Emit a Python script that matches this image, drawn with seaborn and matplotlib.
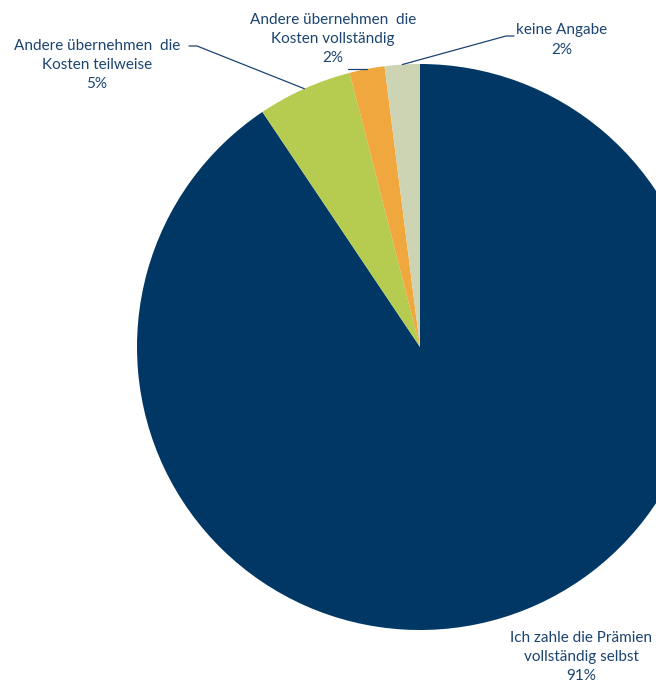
import numpy as np
import matplotlib
matplotlib.use('Agg')
import matplotlib.pyplot as plt
import seaborn as sns

# data
labels = ["Ich zahle die Prämien\nvollständig selbst",
          "Andere übernehmen  die\nKosten teilweise",
          "Andere übernehmen  die\nKosten vollständig",
          "keine Angabe"]
shares = [90.6, 5.4, 2.0, 2.0]
colors = ['#003764', '#B5CC51', '#EFA73E', '#CDD4B4']

sns.set_theme(style='white')
plt.rcParams['font.family'] = ['Lato', 'DejaVu Sans']
text_col = '#1B4470'

W, H = 656, 684
fig = plt.figure(figsize=(W / 100, H / 100), dpi=100)
ax = fig.add_axes([0, 0, 1, 1])

cx, cy, R = 420, H - 347, 283
wedges, _ = ax.pie(shares, colors=colors, startangle=90, counterclock=False,
                   center=(cx, cy), radius=R,
                   wedgeprops=dict(linewidth=0))
ax.set_xlim(0, W)
ax.set_ylim(0, H)
ax.set_aspect('equal')
ax.axis('off')

# label placement (pixel coords from top-left): text centre, leader start
layout = [
    ((581, 657), None),
    ((97, 65), (189, 46)),
    ((333, 39), (348, 70)),
    ((562, 40), (514, 36)),
]

for w, lab, val, ((tx, ty), lead) in zip(wedges, labels, shares, layout):
    ax.text(tx, H - ty, f"{lab}\n{round(val):.0f}%", ha='center', va='center',
            fontsize=11, color=text_col, linespacing=1.5)
    if lead is not None:
        mid = np.deg2rad((w.theta1 + w.theta2) / 2)
        ex, ey = cx + R * np.cos(mid), cy + R * np.sin(mid)
        sx, sy = lead[0], H - lead[1]
        if abs(sy - ey) < 4:
            ax.plot([sx, ex], [ey, ey], color=text_col, lw=0.9)
        else:
            knee = sx - 8 if sx > ex else sx + 8
            ax.plot([sx, knee, ex], [sy, sy, ey], color=text_col, lw=0.9)

plt.savefig('out.png', dpi=100)
